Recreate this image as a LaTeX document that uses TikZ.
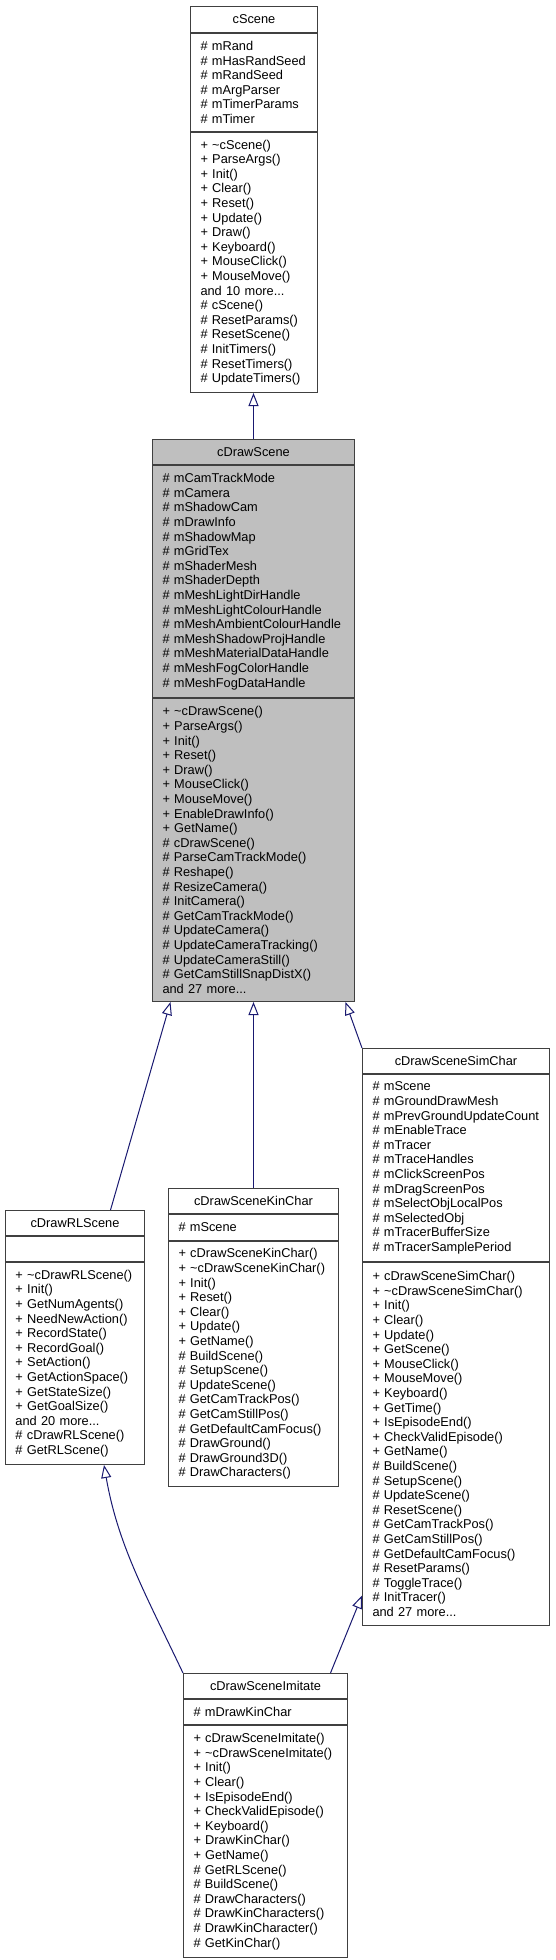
\documentclass[tikz,border=0pt]{standalone}
\usepackage{fontspec}
\setmainfont{Liberation Sans}
\usetikzlibrary{arrows.meta,positioning}
\definecolor{boxline}{HTML}{404040}
\definecolor{basegray}{HTML}{BFBFBF}
\definecolor{edgeblue}{HTML}{191970}
\tikzset{
  part/.style={draw=boxline, line width=1pt, fill=white, anchor=north west, inner xsep=10pt, inner ysep=0pt, font=\fontsize{12.8}{14.6}\selectfont},
  titlepart/.style={part, align=center},
  listpart/.style={part, align=left},
  focus/.style={fill=basegray},
  inherit/.style={-{Triangle[length=13pt,width=10pt,fill=white]}, line width=1pt, draw=edgeblue}
}
\begin{document}
\begin{tikzpicture}[x=1pt, y=-1pt]
  \useasboundingbox (0,0) rectangle (555,1960);
  % cScene
  \node[titlepart, text width=107pt, minimum height=26pt] (cscene) at (190,6) {cScene};
  \node[listpart, text width=107pt, minimum height=98pt, below=0pt of cscene] (cscene-a) {\# mRand\\\# mHasRandSeed\\\# mRandSeed\\\# mArgParser\\\# mTimerParams\\\# mTimer};
  \node[listpart, text width=107pt, minimum height=260pt, below=0pt of cscene-a] (cscene-m) {+ \textasciitilde cScene()\\+ ParseArgs()\\+ Init()\\+ Clear()\\+ Reset()\\+ Update()\\+ Draw()\\+ Keyboard()\\+ MouseClick()\\+ MouseMove()\\and 10 more...\\\# cScene()\\\# ResetParams()\\\# ResetScene()\\\# InitTimers()\\\# ResetTimers()\\\# UpdateTimers()};
  % cDrawScene
  \node[titlepart, focus, text width=182pt, minimum height=25pt] (cdrawscene) at (152,439) {cDrawScene};
  \node[listpart, focus, text width=182pt, minimum height=232pt, below=0pt of cdrawscene] (cdrawscene-a) {\# mCamTrackMode\\\# mCamera\\\# mShadowCam\\\# mDrawInfo\\\# mShadowMap\\\# mGridTex\\\# mShaderMesh\\\# mShaderDepth\\\# mMeshLightDirHandle\\\# mMeshLightColourHandle\\\# mMeshAmbientColourHandle\\\# mMeshShadowProjHandle\\\# mMeshMaterialDataHandle\\\# mMeshFogColorHandle\\\# mMeshFogDataHandle};
  \node[listpart, focus, text width=182pt, minimum height=303pt, below=0pt of cdrawscene-a] (cdrawscene-m) {+ \textasciitilde cDrawScene()\\+ ParseArgs()\\+ Init()\\+ Reset()\\+ Draw()\\+ MouseClick()\\+ MouseMove()\\+ EnableDrawInfo()\\+ GetName()\\\# cDrawScene()\\\# ParseCamTrackMode()\\\# Reshape()\\\# ResizeCamera()\\\# InitCamera()\\\# GetCamTrackMode()\\\# UpdateCamera()\\\# UpdateCameraTracking()\\\# UpdateCameraStill()\\\# GetCamStillSnapDistX()\\and 27 more...};
  % cDrawRLScene
  \node[titlepart, text width=119pt, minimum height=25pt] (rlscene) at (5,1210) {cDrawRLScene};
  \node[listpart, text width=119pt, minimum height=25pt, below=0pt of rlscene] (rlscene-a) {};
  \node[listpart, text width=119pt, minimum height=202pt, below=0pt of rlscene-a] (rlscene-m) {+ \textasciitilde cDrawRLScene()\\+ Init()\\+ GetNumAgents()\\+ NeedNewAction()\\+ RecordState()\\+ RecordGoal()\\+ SetAction()\\+ GetActionSpace()\\+ GetStateSize()\\+ GetGoalSize()\\and 20 more...\\\# cDrawRLScene()\\\# GetRLScene()};
  % cDrawSceneKinChar
  \node[titlepart, text width=150pt, minimum height=25pt] (kinchar) at (168,1188) {cDrawSceneKinChar};
  \node[listpart, text width=150pt, minimum height=26pt, below=0pt of kinchar] (kinchar-a) {\# mScene};
  \node[listpart, text width=150pt, minimum height=245pt, below=0pt of kinchar-a] (kinchar-m) {+ cDrawSceneKinChar()\\+ \textasciitilde cDrawSceneKinChar()\\+ Init()\\+ Reset()\\+ Clear()\\+ Update()\\+ GetName()\\\# BuildScene()\\\# SetupScene()\\\# UpdateScene()\\\# GetCamTrackPos()\\\# GetCamStillPos()\\\# GetDefaultCamFocus()\\\# DrawGround()\\\# DrawGround3D()\\\# DrawCharacters()};
  % cDrawSceneSimChar
  \node[titlepart, text width=167pt, minimum height=25pt] (simchar) at (362,1048) {cDrawSceneSimChar};
  \node[listpart, text width=167pt, minimum height=187pt, below=0pt of simchar] (simchar-a) {\# mScene\\\# mGroundDrawMesh\\\# mPrevGroundUpdateCount\\\# mEnableTrace\\\# mTracer\\\# mTraceHandles\\\# mClickScreenPos\\\# mDragScreenPos\\\# mSelectObjLocalPos\\\# mSelectedObj\\\# mTracerBufferSize\\\# mTracerSamplePeriod};
  \node[listpart, text width=167pt, minimum height=363pt, below=0pt of simchar-a] (simchar-m) {+ cDrawSceneSimChar()\\+ \textasciitilde cDrawSceneSimChar()\\+ Init()\\+ Clear()\\+ Update()\\+ GetScene()\\+ MouseClick()\\+ MouseMove()\\+ Keyboard()\\+ GetTime()\\+ IsEpisodeEnd()\\+ CheckValidEpisode()\\+ GetName()\\\# BuildScene()\\\# SetupScene()\\\# UpdateScene()\\\# ResetScene()\\\# GetCamTrackPos()\\\# GetCamStillPos()\\\# GetDefaultCamFocus()\\\# ResetParams()\\\# ToggleTrace()\\\# InitTracer()\\and 27 more...};
  % cDrawSceneImitate
  \node[titlepart, text width=144pt, minimum height=25pt] (imitate) at (183,1673) {cDrawSceneImitate};
  \node[listpart, text width=144pt, minimum height=25pt, below=0pt of imitate] (imitate-a) {\# mDrawKinChar};
  \node[listpart, text width=144pt, minimum height=232pt, below=0pt of imitate-a] (imitate-m) {+ cDrawSceneImitate()\\+ \textasciitilde cDrawSceneImitate()\\+ Init()\\+ Clear()\\+ IsEpisodeEnd()\\+ CheckValidEpisode()\\+ Keyboard()\\+ DrawKinChar()\\+ GetName()\\\# GetRLScene()\\\# BuildScene()\\\# DrawCharacters()\\\# DrawKinCharacters()\\\# DrawKinCharacter()\\\# GetKinChar()};
  % inheritance
  \draw[inherit] (cdrawscene.north) -- (cdrawscene.north |- cscene-m.south);
  \draw[inherit] ([xshift=35.5pt]rlscene.north) -- ([xshift=-83pt]cdrawscene-m.south);
  \draw[inherit] (kinchar.north) -- (kinchar.north |- cdrawscene-m.south);
  \draw[inherit] (simchar.north west) -- ([xshift=92pt]cdrawscene-m.south);
  \draw[inherit] (imitate.north west) .. controls +(-38,-80) and +(14,80) .. ([xshift=29pt]rlscene-m.south);
  \draw[inherit] ([xshift=65pt]imitate.north) -- ([yshift=-151.5pt]simchar-m.west);
\end{tikzpicture}
\end{document}
